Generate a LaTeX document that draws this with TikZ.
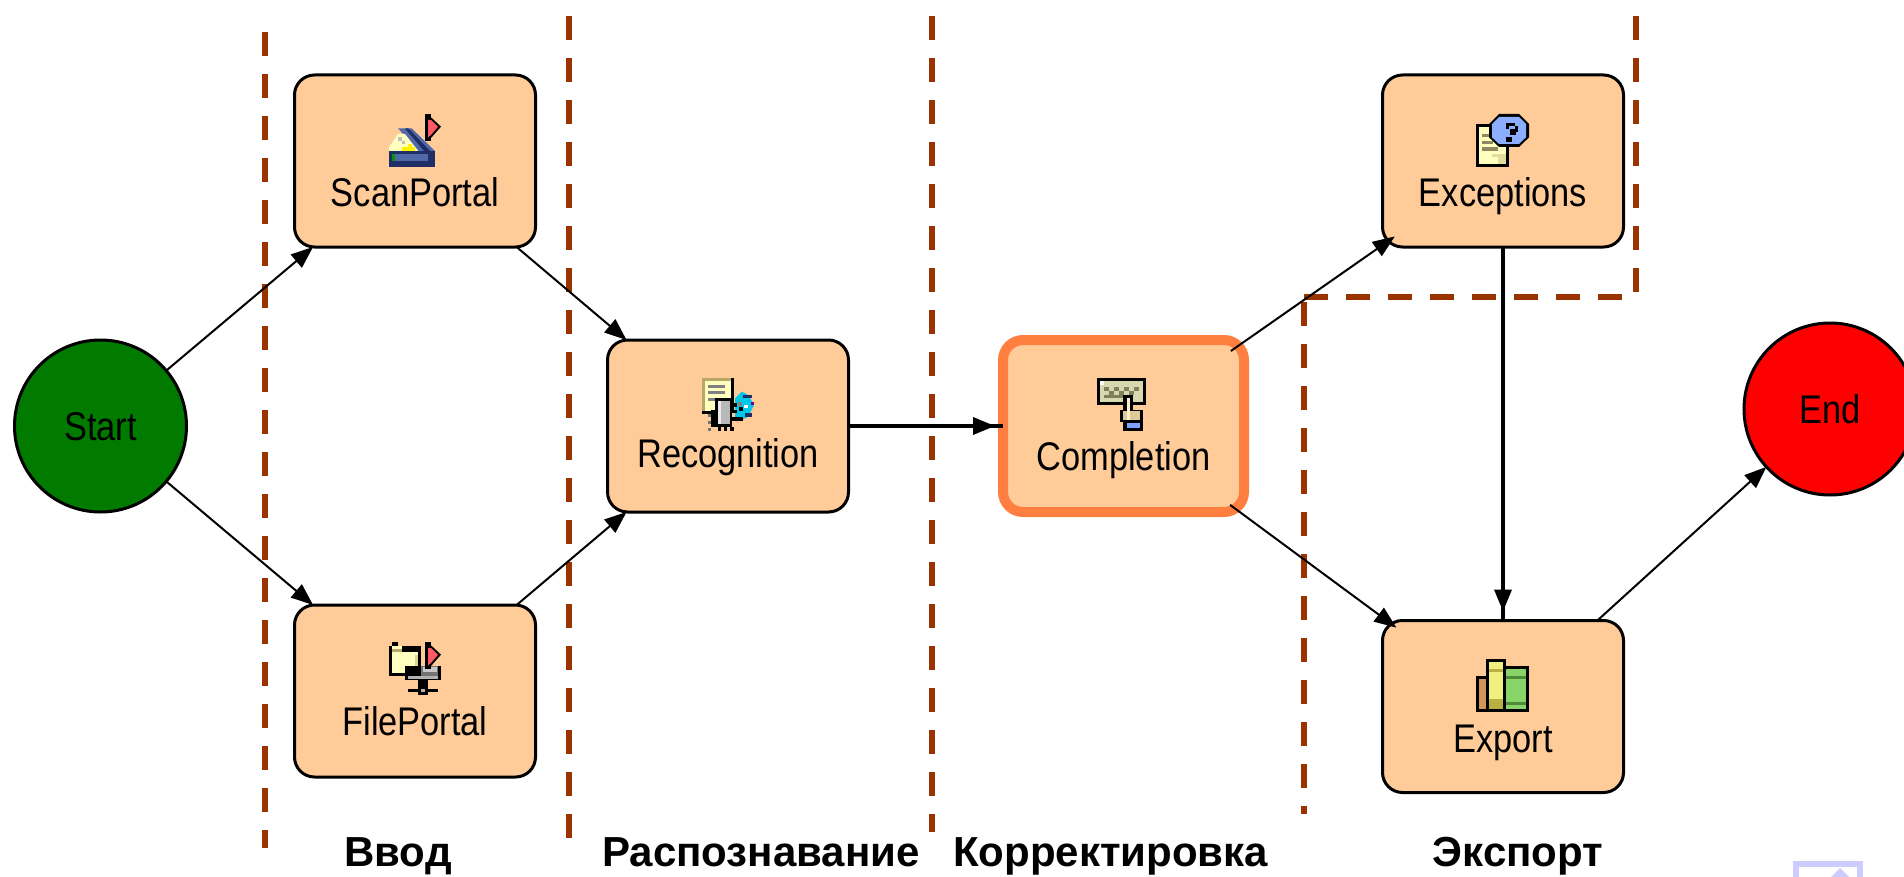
\documentclass[tikz,border=0pt]{standalone}
\usepackage{fontspec}
\setmainfont{Liberation Sans}
\newfontfamily\boxfont[FakeStretch=0.86]{Liberation Sans}
\usetikzlibrary{arrows.meta}
\definecolor{boxfill}{HTML}{FFCC99}
\definecolor{hilite}{HTML}{FF7F40}
\definecolor{divider}{HTML}{993300}
\definecolor{startgreen}{HTML}{007B00}
\definecolor{navy}{HTML}{1F2F66}
\definecolor{midblue}{HTML}{5068A8}
\definecolor{paleyellow}{HTML}{FFFFC0}
\definecolor{iconolive}{HTML}{908860}
\definecolor{bubble}{HTML}{8CAEFF}
\definecolor{keyface}{HTML}{D8D8B0}
\definecolor{keydark}{HTML}{80805A}
\definecolor{skin}{HTML}{E0C898}
\definecolor{skinlight}{HTML}{FFF0D0}
\definecolor{cuff}{HTML}{80A0FF}
\definecolor{gem}{HTML}{00C8E8}
\definecolor{flagred}{HTML}{FF5A64}
\definecolor{icontan}{HTML}{B8A868}
\definecolor{bookorange}{HTML}{D09858}
\definecolor{bookyellow}{HTML}{F0F080}
\definecolor{bookband}{HTML}{B8B040}
\definecolor{bookgreen}{HTML}{88D468}
\definecolor{bookdark}{HTML}{508A38}
\definecolor{markblue}{HTML}{CCCCFF}
\newcommand{\pxr}[5]{\fill[#1] (#2,#3) rectangle (#4,#5);}
\tikzset{
  stage/.style={draw=black,line width=1.5pt,fill=boxfill,rounded corners=10pt,
    minimum width=120.5pt,minimum height=86pt,inner sep=0pt,outer sep=0pt,
    text depth=0pt,font=\boxfont\fontsize{20}{24}\selectfont},
  terminal/.style={circle,draw=black,line width=1.5pt,minimum size=86pt,inner sep=0pt,
    outer sep=0pt,font=\boxfont\fontsize{20}{24}\selectfont},
  conn/.style={line width=1pt,-{Triangle[length=11pt,width=8.5pt]}},
  connthick/.style={line width=1.75pt},
  phase/.style={font=\bfseries\fontsize{21}{25}\selectfont,anchor=base,inner sep=0pt},
  divline/.style={draw=divider,line width=3pt,dash pattern=on 12pt off 9pt}
}
\begin{document}
\begin{tikzpicture}[x=0.5pt,y=-0.5pt]
\useasboundingbox (0,0) rectangle (1904,877);
\clip (0,0) rectangle (1904,877);
% dividers
\draw[divline] (265,32) -- (265,848);
\draw[divline] (569,16) -- (569,838);
\draw[divline] (931.5,16) -- (931.5,832);
\draw[divline] (1636,16) -- (1636,292);
\draw[divline] (1622,297) -- (1304,297);
\draw[divline] (1303.5,302) -- (1303.5,814);
% nodes
\node[terminal,fill=startgreen,text height=14.5pt] (start) at (100.5,426) {Start};
\node[terminal,fill=red,text height=14.5pt] (end) at (1830,409) {End};
\node[stage,text height=45pt] (scan) at (415,161) {ScanPortal};
\node[stage,text height=44pt] (file) at (415,691) {FilePortal};
\node[stage,text height=41pt] (recog) at (728,426) {Recognition};
\node[stage,draw=hilite,line width=5pt,text height=44pt] (compl) at (1123.5,426) {Completion};
\node[stage,text height=45pt] (exc) at (1503,161) {Exceptions};
\node[stage,text height=45.5pt] (export) at (1503,706.5) {Export};
% ScanPortal icon
\begin{scope}[shift={(280,60)},scale=1/3]
\fill[midblue] (354,205) -- (395,205) -- (465,273) -- (415,273) -- cycle;
\fill[navy] (375,205) -- (385,205) -- (450,273) -- (432,273) -- cycle;
\fill[paleyellow] (327,273) -- (327,262) -- (354,222) -- (375,222) -- (415,273) -- cycle;
\pxr{yellow}{365}{262}{405}{273}
\pxr{yellow}{384}{252}{396}{262}
\pxr{black!25}{354}{232}{365}{243}
\pxr{black!25}{365}{243}{375}{252}
\pxr{navy}{327}{273}{465}{320}
\pxr{midblue}{345}{282}{445}{304}
\pxr{green!60!black}{336}{282}{345}{304}
\pxr{black}{435}{162}{453}{243}
\fill[black] (453,172) -- (483,200) -- (453,234) -- cycle;
\fill[flagred] (444,180) -- (453,180) -- (474,200) -- (453,225) -- (444,232) -- cycle;
\end{scope}
% FilePortal icon
\begin{scope}[shift={(280,590)},scale=1/3]
\pxr{black}{336}{156}{354}{168}
\pxr{black}{327}{168}{423}{257}
\pxr{paleyellow}{336}{168}{366}{178}
\pxr{icontan}{336}{178}{366}{186}
\pxr{paleyellow}{336}{186}{414}{248}
\pxr{icontan!50!paleyellow}{405}{195}{414}{248}
\pxr{black}{375}{228}{483}{270}
\pxr{black!30}{385}{257}{475}{267}
\pxr{black!55}{423}{228}{475}{257}
\pxr{black!22}{430}{232}{472}{246}
\pxr{black}{414}{270}{444}{315}
\pxr{black}{384}{296}{475}{306}
\pxr{black!30}{423}{296}{435}{306}
\pxr{black}{435}{156}{453}{237}
\fill[black] (453,166) -- (483,194) -- (453,228) -- cycle;
\fill[flagred] (444,174) -- (453,174) -- (474,194) -- (453,219) -- (444,226) -- cycle;
\end{scope}
% Recognition icon
\begin{scope}[shift={(680,370)},scale=1/3]
\pxr{icontan}{66}{24}{162}{130}
\pxr{paleyellow}{75}{33}{153}{130}
\pxr{black}{153}{24}{162}{130}
\pxr{black!50}{84}{45}{135}{54}
\pxr{black!50}{84}{63}{135}{72}
\pxr{black!50}{84}{84}{105}{92}
\pxr{black}{66}{123}{105}{132}
\fill[gem] (165,85) -- (185,65) -- (205,75) -- (222,105) -- (205,140) -- (185,150) -- (165,140) -- cycle;
\pxr{black}{105}{84}{156}{172}
\pxr{black!28}{114}{93}{150}{162}
\pxr{black!8}{114}{93}{123}{162}
\pxr{black}{114}{172}{123}{182}
\pxr{black}{132}{172}{141}{182}
\pxr{black}{150}{172}{162}{182}
\pxr{black!55}{84}{132}{93}{141}
\pxr{black!55}{84}{153}{93}{162}
\pxr{black!55}{84}{174}{93}{183}
\pxr{black}{93}{120}{105}{172}
\pxr{black}{156}{100}{170}{110}
\pxr{black}{156}{120}{170}{130}
\pxr{black}{156}{140}{190}{152}
\pxr{navy}{190}{75}{215}{85}
\pxr{white}{192}{105}{204}{115}
\pxr{violet}{213}{95}{222}{105}
\pxr{black!50}{175}{95}{187}{107}
\pxr{black}{178}{112}{190}{122}
\pxr{navy}{195}{130}{215}{142}
\end{scope}
% Completion icon
\begin{scope}[shift={(1070,360)},scale=1/3]
\pxr{black}{81}{54}{228}{135}
\pxr{keyface}{90}{63}{219}{126}
\pxr{white}{90}{63}{102}{75}
\foreach \dx in {102,132,162,192} {\fill[keydark] (\dx,82) rectangle ++(14,10);}
\foreach \dx in {117,147,177} {\fill[keydark] (\dx,94) rectangle ++(14,10);}
\pxr{keydark}{102}{106}{170}{114}
\pxr{black}{160}{105}{190}{160}
\pxr{skinlight}{170}{114}{180}{155}
\pxr{black}{150}{150}{220}{185}
\pxr{skin}{160}{153}{210}{183}
\pxr{skinlight}{170}{150}{180}{183}
\pxr{black}{160}{180}{220}{213}
\pxr{cuff}{170}{190}{210}{204}
\end{scope}
% Exceptions icon
\begin{scope}[shift={(1360,60)},scale=1/3]
\pxr{black}{348}{192}{447}{321}
\pxr{paleyellow}{357}{201}{438}{312}
\pxr{iconolive}{366}{222}{390}{232}
\pxr{iconolive}{366}{243}{400}{253}
\pxr{iconolive}{366}{262}{415}{273}
\pxr{icontan!40!paleyellow}{396}{282}{438}{290}
\pxr{icontan!40!paleyellow}{414}{290}{438}{312}
\fill[black] (417,162) -- (477,162) -- (507,192) -- (507,232) -- (477,261) -- (417,261) -- (387,232) -- (387,192) -- cycle;
\fill[bubble] (417,171) -- (477,171) -- (498,192) -- (498,232) -- (477,252) -- (417,252) -- (396,232) -- (396,192) -- cycle;
\pxr{black}{438}{188}{465}{197}
\pxr{black}{465}{197}{474}{216}
\pxr{black}{450}{208}{468}{225}
\pxr{black}{438}{197}{447}{206}
\pxr{black}{438}{232}{456}{245}
\end{scope}
% Export icon
\begin{scope}[shift={(1360,600)},xscale=1/2.88,yscale=1/3]
\pxr{black}{334}{228}{372}{336}
\pxr{black}{362}{177}{421}{336}
\pxr{black}{412}{198}{488}{336}
\pxr{bookorange}{343}{237}{362}{327}
\pxr{bookyellow}{372}{187}{412}{327}
\pxr{bookband}{372}{208}{412}{216}
\pxr{bookband}{372}{297}{412}{327}
\pxr{bookgreen}{421}{207}{478}{327}
\pxr{bookdark}{421}{228}{478}{236}
\pxr{bookdark}{421}{306}{478}{314}
\end{scope}
% connectors
\draw[conn] (start) -- (scan);
\draw[conn] (start) -- (file);
\draw[conn] (scan) -- (recog);
\draw[conn] (file) -- (recog);
\draw[connthick] (recog) -- (compl);
\draw[conn,connthick,shorten >=4pt] (recog) -- (compl);
\draw[conn,shorten <=-8pt,shorten >=-7.5pt] (compl) -- (exc);
\draw[conn,shorten <=-6pt,shorten >=-6pt] (compl) -- (export);
\draw[connthick] (exc) -- (export);
\draw[conn,connthick,shorten >=4.5pt] (exc) -- (export);
\draw[conn] (export) -- (end);
% phase labels
\node[phase] (lbl1) at (398,866) {Ввод};
\node[phase] (lbl2) at (761,866) {Распознавание};
\node[phase] (lbl3) at (1110.5,866) {Корректировка};
\node[phase] (lbl4) at (1518,866) {Экспорт};
% corner mark
\draw[draw=markblue,line width=3pt] (1796,885) -- (1796,864) -- (1860,864) -- (1860,885);
\fill[markblue] (1840,868) -- (1856,884) -- (1824,884) -- cycle;
\end{tikzpicture}
\end{document}
